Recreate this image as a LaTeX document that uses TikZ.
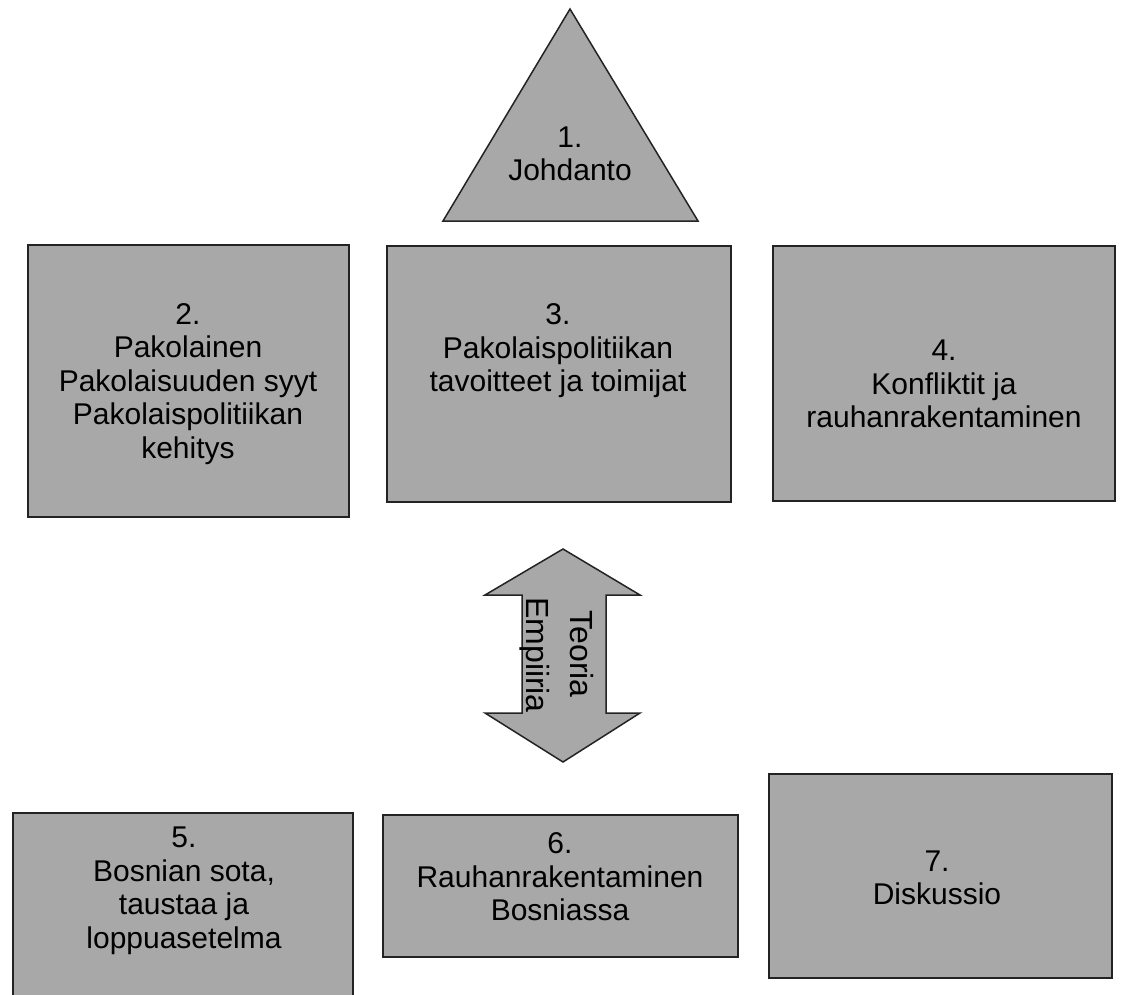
\documentclass[tikz,border=0pt]{standalone}
\usepackage{fontspec}
\setmainfont{Liberation Sans}
\definecolor{boxgray}{RGB}{168,168,168}
\definecolor{edgegray}{RGB}{35,35,35}
\tikzset{
  shapebox/.style={draw=edgegray, fill=boxgray, line width=1.5pt},
  lbl/.style={font=\fontsize{30}{33.5}\selectfont, align=center, inner sep=0pt, text=black},
  vlbl/.style={font=\fontsize{32}{34}\selectfont, inner sep=0pt, text=black, rotate=-90},
}
\begin{document}
\begin{tikzpicture}[x=1pt,y=-1pt]
\useasboundingbox (0,0) rectangle (1127,994);
% triangle
\draw[shapebox] (570,9) -- (698,221) -- (443,221) -- cycle;
\node[lbl] (t1) at (570,154) {1.\\Johdanto};
% boxes
\draw[shapebox] (28,245) rectangle (349,517);
\node[lbl] (t2) at (188,384) {2.\\Pakolainen\\Pakolaisuuden syyt\\Pakolaispolitiikan\\kehitys};
\draw[shapebox] (387,246) rectangle (731,502);
\node[lbl] (t3) at (558,351) {3.\\Pakolaispolitiikan\\tavoitteet ja toimijat};
\draw[shapebox] (773,246) rectangle (1115,501);
\node[lbl] (t4) at (944,384) {4.\\Konfliktit ja\\rauhanrakentaminen};
\draw[shapebox] (13,813) rectangle (353,1000);
\node[lbl] (t5) at (184,891) {5.\\Bosnian sota,\\taustaa ja\\loppuasetelma};
\draw[shapebox] (383,815) rectangle (738,957);
\node[lbl] (t6) at (560,877) {6.\\Rauhanrakentaminen\\Bosniassa};
\draw[shapebox] (769,774) rectangle (1112,978);
\node[lbl] (t7) at (937,878) {7.\\Diskussio};
% double arrow
\draw[shapebox] (563,549) -- (640,595) -- (606,595) -- (606,713) -- (640,713)
  -- (563,762) -- (485,713) -- (522,713) -- (522,595) -- (485,595) -- cycle;
\node[vlbl] (teoria) at (582,654) {Teoria};
\node[vlbl] (empiiria) at (535,655) {Empiiria};
\end{tikzpicture}
\end{document}
